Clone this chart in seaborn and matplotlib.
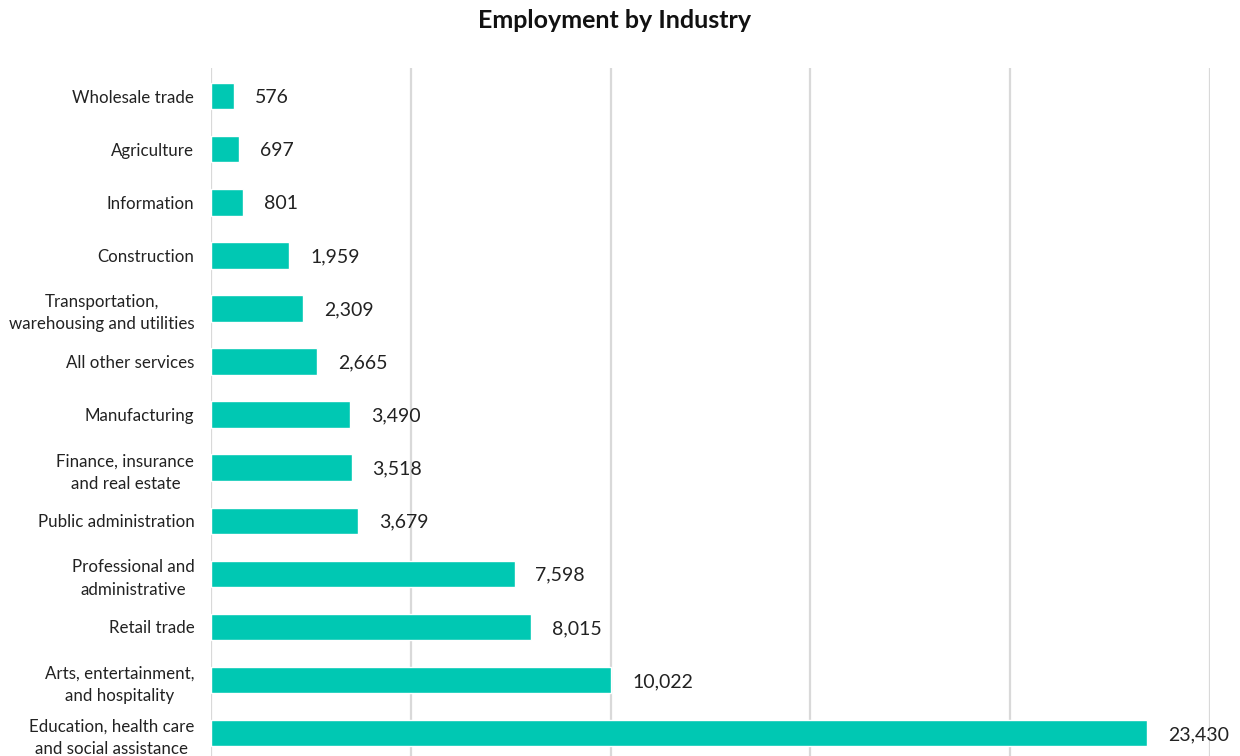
import pandas as pd
import seaborn as sns
import matplotlib.pyplot as plt

sns.set_theme(style="white")
plt.rcParams['font.family'] = ['Lato', 'DejaVu Sans']

industries = [
    "Wholesale trade",
    "Agriculture",
    "Information",
    "Construction",
    "Transportation,\nwarehousing and utilities",
    "All other services",
    "Manufacturing",
    "Finance, insurance\nand real estate",
    "Public administration",
    "Professional and\nadministrative",
    "Retail trade",
    "Arts, entertainment,\nand hospitality",
    "Education, health care\nand social assistance",
]
employment = [576, 697, 801, 1959, 2309, 2665, 3490, 3518, 3679, 7598, 8015, 10022, 23430]
grid_ticks = [0, 5000, 10000, 15000, 20000, 25000]

df = pd.DataFrame({"Industry": industries, "Employment": employment})

fig = plt.figure(figsize=(12.4, 7.56), dpi=100)
ax = fig.add_axes([211 / 1240, 0.0, (1210 - 211) / 1240, (756 - 68) / 756])

sns.barplot(data=df, x="Employment", y="Industry", order=industries,
            color="#00C8B3", saturation=1, width=0.5, ax=ax)

ax.set_xlim(0, 25000)
ax.set_ylim(12.43, -0.53)
ax.set_xticks(grid_ticks)
ax.set_xticklabels([])
ax.xaxis.grid(True, color="#d9d9d9", linewidth=1.6)
ax.set_axisbelow(True)
for s in ax.spines.values():
    s.set_visible(False)
ax.tick_params(axis="both", length=0)
ax.tick_params(axis="y", pad=12, labelsize=12.2, labelcolor="#222222")
for lbl in ax.get_yticklabels():
    lbl.set_multialignment("center")
    lbl.set_linespacing(1.5)
    if "\n" in lbl.get_text():
        lbl.set_y(lbl.get_position()[1])
ax.set_xlabel("")
ax.set_ylabel("")

for i, v in enumerate(employment):
    ax.annotate(f"{v:,}", (v, i), xytext=(15, -1), textcoords="offset points",
                ha="left", va="center", fontsize=14, color="#222222",
                annotation_clip=False)

fig.text(615 / 1240, 1 - 21 / 756, "Employment by Industry", ha="center", va="center",
         fontsize=18, fontweight="bold", color="#111111")

fig.savefig("out.png", dpi=100)
